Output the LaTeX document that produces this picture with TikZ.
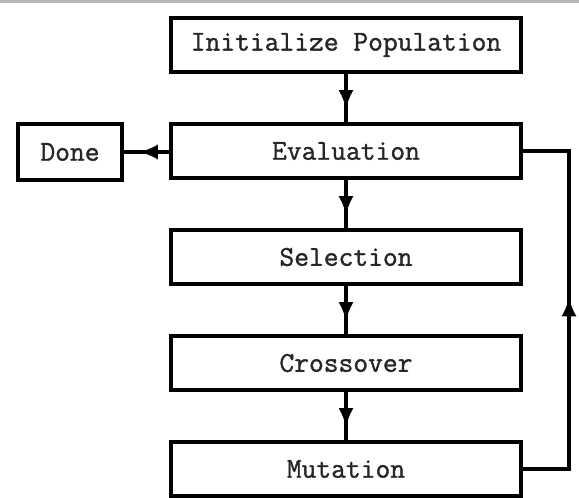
\documentclass[tikz,border=0pt]{standalone}
\usepackage{fontspec}
\usepackage{tikz}
\usetikzlibrary{arrows.meta}
\usetikzlibrary{decorations.markings}
\newfontfamily\boxfont{Latin Modern Mono}[FakeBold=1.2]

\begin{document}
\begin{tikzpicture}[
            x=0.03cm, y=-0.03cm,
            main node/.style={draw=black, line width=2.7pt, minimum width=10.5cm, minimum height=1.62cm, inner sep=0pt, font=\fontsize{24.5}{27}\boxfont, text=black!85},
            done node/.style={main node, minimum width=3.12cm, minimum height=1.68cm},
            mid arrow/.style={draw=black, line width=2.7pt, postaction={decorate}, decoration={markings, mark=at position #1 with {\arrow{Latex[length=16pt,width=13pt]}}}},
            ]
            \useasboundingbox (0,0) rectangle (579,498);
            \fill[gray!55] (0,0) rectangle (579,3);
            \def\D{106}

            \node[main node] (init) at (346,45) {Initialize Population};
            \node[main node] (eval) at (346,45+\D) {Evaluation};
            \node[main node] (sel) at (346,45+2*\D) {Selection};
            \node[main node] (cross) at (346,45+3*\D) {Crossover};
            \node[main node] (mut) at (346,45+4*\D) {Mutation};
            \node[done node] (done) at (70,152) {Done};

            \coordinate (c1) at (569,469);
            \coordinate (c2) at (569,151);

            \draw[mid arrow=0.72] (init) -- (eval);
            \draw[mid arrow=0.72] (eval) -- (sel);
            \draw[mid arrow=0.72] (sel) -- (cross);
            \draw[mid arrow=0.72] (cross) -- (mut);
            \draw[mid arrow=0.66] (eval.west |- done) -- (done);
            \draw[mid arrow=0.53] (mut) -- (c1) -- (c2) -- (eval.east |- c2);
        \end{tikzpicture}
\end{document}
